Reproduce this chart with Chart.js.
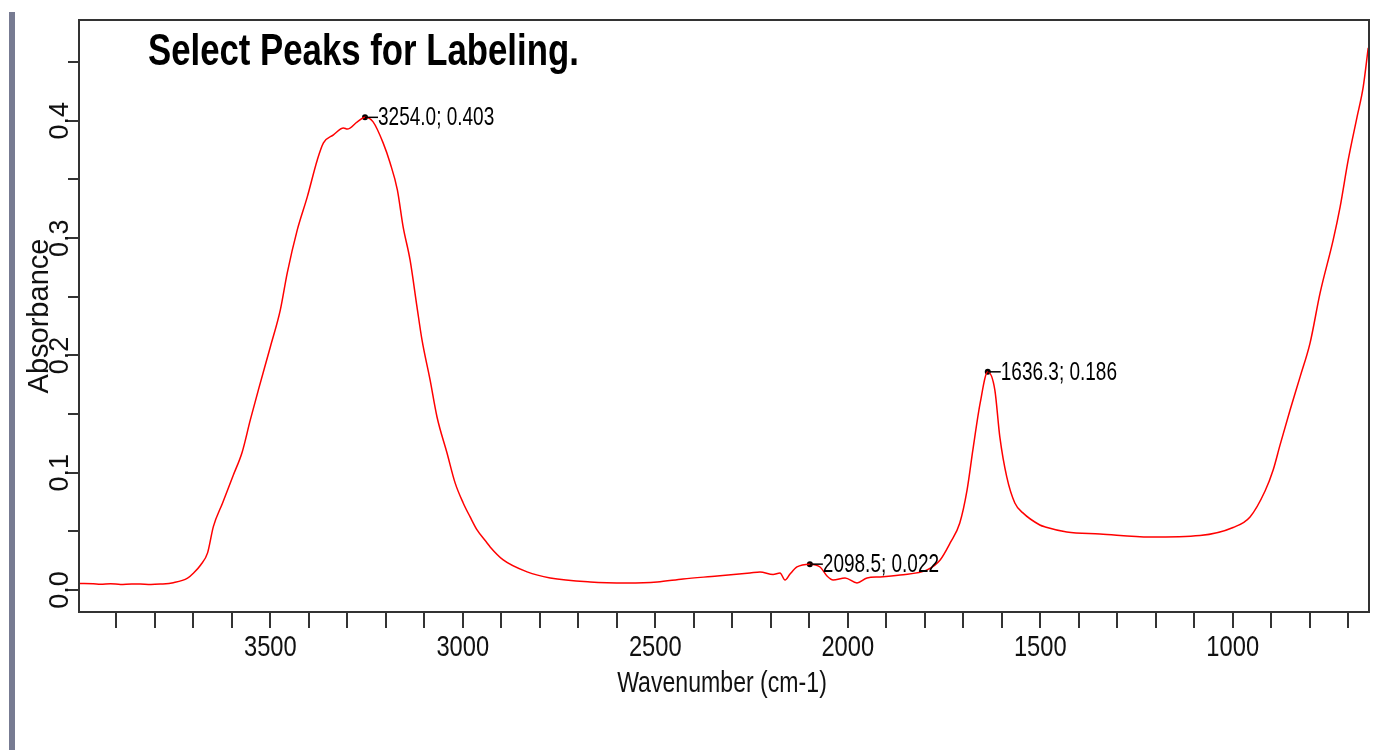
<!DOCTYPE html>
<html>
<head>
<meta charset="utf-8">
<script src="https://cdn.jsdelivr.net/npm/chart.js@4.4.0/dist/chart.umd.min.js"></script>
<style>
  html, body { margin: 0; padding: 0; background: #fff; }
  #wrap { position: relative; width: 1392px; height: 750px; }
  #bar { position: absolute; left: 9px; top: 12px; width: 6px; height: 738px; background: #777b92; }
</style>
</head>
<body>
<div id="wrap">
  <canvas id="c" width="1392" height="750"></canvas>
  <div id="bar"></div>
</div>
<script>
// spectrum
const wavenumbers = [
  3996, 3960, 3941, 3915, 3889, 3860, 3838, 3810, 3786, 3752, 3715, 3700, 3681, 3663, 3648,
  3624, 3596, 3573, 3552, 3531, 3500, 3474, 3456, 3430, 3404, 3378, 3362, 3336, 3310, 3300,
  3274, 3254, 3233, 3207, 3189, 3170, 3155, 3137, 3119, 3106, 3085, 3067, 3041, 3020, 2999,
  2981, 2963, 2937, 2929, 2895, 2833, 2773, 2669, 2573, 2495, 2428, 2339, 2254, 2228, 2194,
  2176, 2163, 2150, 2132, 2098.5, 2072, 2054, 2038, 2007, 1976, 1950, 1916, 1864, 1794, 1760,
  1734, 1709, 1690, 1675, 1656, 1636.3, 1618, 1605, 1587, 1566, 1545, 1501, 1487, 1431, 1345,
  1215, 1085, 999, 955, 916, 895, 877, 851, 825, 799, 773, 739, 721, 700, 677, 661, 648
];
const absorbance = [
  0.0055, 0.0052, 0.0048, 0.0053, 0.0047, 0.0051, 0.0050, 0.0046, 0.0050, 0.0062, 0.0100, 0.0142, 0.0213, 0.0316, 0.054,
  0.0742, 0.098, 0.1177, 0.145, 0.1706, 0.2072, 0.2388, 0.2704, 0.3070, 0.3352, 0.3667, 0.3812, 0.3881, 0.3940, 0.3930,
  0.3991, 0.403, 0.3991, 0.3812, 0.3642, 0.3412, 0.3096, 0.2814, 0.2414, 0.2132, 0.1791, 0.1475, 0.1168, 0.0913, 0.0742,
  0.0623, 0.0512, 0.0401, 0.0367, 0.0256, 0.0154, 0.0102, 0.0068, 0.0060, 0.0068, 0.0094, 0.0119, 0.0145, 0.0154, 0.0132,
  0.0145, 0.0085, 0.0136, 0.0196, 0.022, 0.0196, 0.0119, 0.0085, 0.0102, 0.0060, 0.0102, 0.0111, 0.0128, 0.0171, 0.0256,
  0.0401, 0.0571, 0.0853, 0.1194, 0.1595, 0.186, 0.1706, 0.1305, 0.0964, 0.0742, 0.0657, 0.0554, 0.0537, 0.0495, 0.0478,
  0.0452, 0.0465, 0.0533, 0.0623, 0.0844, 0.1023, 0.1237, 0.1535, 0.1817, 0.2107, 0.2533, 0.2985, 0.3267, 0.3667, 0.4034, 0.4290, 0.4623
];

// labelled peaks
const peakWavenumbers = [3254.0, 2098.5, 1636.3];
const peakAbsorbance = [0.403, 0.022, 0.186];

// axis ticks (minor ones have no label)
const xTicks = [700, 800, 900, 1000, 1100, 1200, 1300, 1400, 1500, 1600, 1700, 1800, 1900, 2000,
  2100, 2200, 2300, 2400, 2500, 2600, 2700, 2800, 2900, 3000, 3100, 3200, 3300, 3400, 3500,
  3600, 3700, 3800, 3900];
const xLabels = [1000, 1500, 2000, 2500, 3000, 3500];
const yTicks = [0, 0.05, 0.1, 0.15, 0.2, 0.25, 0.3, 0.35, 0.4, 0.45];
const yLabels = [0, 0.1, 0.2, 0.3, 0.4];

const FONT = "'Liberation Sans', Arial, sans-serif";

// the horizontal texts of the original are condensed
function squashText(ctx, text, x, y, sx, align) {
  ctx.save();
  ctx.translate(x, y);
  ctx.scale(sx, 1);
  ctx.textAlign = align;
  ctx.fillText(text, 0, 0);
  ctx.restore();
}

const framePlugin = {
  id: 'frame',
  afterDraw(chart) {
    const { ctx, chartArea: a, scales } = chart;
    ctx.save();
    ctx.strokeStyle = '#333';
    ctx.lineWidth = 2;
    ctx.strokeRect(a.left, a.top, a.right - a.left, a.bottom - a.top);

    ctx.textBaseline = 'alphabetic';
    ctx.fillStyle = '#000';
    ctx.font = 'bold 44px ' + FONT;
    squashText(ctx, 'Select Peaks for Labeling.', 148, 65, 0.79, 'left');

    // x tick labels and axis title
    ctx.fillStyle = '#111';
    ctx.font = '30px ' + FONT;
    scales.x.ticks.forEach(t => {
      if (xLabels.includes(t.value)) {
        squashText(ctx, String(t.value), scales.x.getPixelForValue(t.value), 656, 0.79, 'center');
      }
    });
    squashText(ctx, 'Wavenumber (cm-1)', (a.left + a.right) / 2 - 2, 692, 0.77, 'center');

    // peak markers and labels
    ctx.fillStyle = '#000';
    ctx.font = '25px ' + FONT;
    ctx.textBaseline = 'middle';
    peakWavenumbers.forEach((w, i) => {
      const px = scales.x.getPixelForValue(w);
      const py = scales.y.getPixelForValue(peakAbsorbance[i]);
      ctx.strokeStyle = '#000';
      ctx.lineWidth = 1.5;
      ctx.beginPath();
      ctx.moveTo(px, py);
      ctx.lineTo(px + 13, py);
      ctx.stroke();
      squashText(ctx, w.toFixed(1) + '; ' + peakAbsorbance[i].toFixed(3), px + 13, py + 1, 0.76, 'left');
    });
    ctx.restore();
  }
};

const ctx = document.getElementById('c').getContext('2d');

new Chart(ctx, {
  type: 'scatter',
  data: {
    datasets: [{
      data: wavenumbers.map((w, i) => ({ x: w, y: absorbance[i] })),
      showLine: true,
      borderColor: 'rgb(255, 0, 0)',
      borderWidth: 1.5,
      pointRadius: 0,
      cubicInterpolationMode: 'monotone'
    }, {
      data: peakWavenumbers.map((w, i) => ({ x: w, y: peakAbsorbance[i] })),
      pointRadius: 3,
      pointBackgroundColor: '#000',
      pointBorderColor: '#000',
      borderWidth: 0
    }]
  },
  options: {
    responsive: false,
    animation: false,
    layout: { padding: { left: 0, top: 20, right: 23, bottom: 0 } },
    plugins: { legend: { display: false }, tooltip: { enabled: false } },
    scales: {
      x: {
        type: 'linear',
        reverse: true,
        min: 646,
        max: 3997,
        afterBuildTicks: s => { s.ticks = xTicks.map(v => ({ value: v })); },
        afterFit: s => { s.height = 138; },
        grid: { drawOnChartArea: false, drawTicks: true, tickLength: 16, color: '#333', lineWidth: 2 },
        border: { display: false },
        ticks: { display: false, autoSkip: false }
      },
      y: {
        type: 'linear',
        min: -0.0188,
        max: 0.486,
        afterBuildTicks: s => { s.ticks = yTicks.map(v => ({ value: v })); },
        afterFit: s => { s.width = 79; },
        grid: { drawOnChartArea: false, drawTicks: true, tickLength: 11, color: '#333', lineWidth: 2 },
        border: { display: false },
        ticks: {
          autoSkip: false,
          minRotation: 90,
          maxRotation: 90,
          crossAlign: 'center',
          padding: -11,
          color: '#111',
          font: { family: FONT, size: 27 },
          callback: v => yLabels.some(l => Math.abs(l - v) < 1e-9) ? v.toFixed(1) : ''
        },
        title: {
          display: true,
          text: 'Absorbance',
          color: '#111',
          font: { family: FONT, size: 29 },
          padding: { top: 23, bottom: 0 }
        }
      }
    }
  },
  plugins: [framePlugin]
});
</script>
</body>
</html>
